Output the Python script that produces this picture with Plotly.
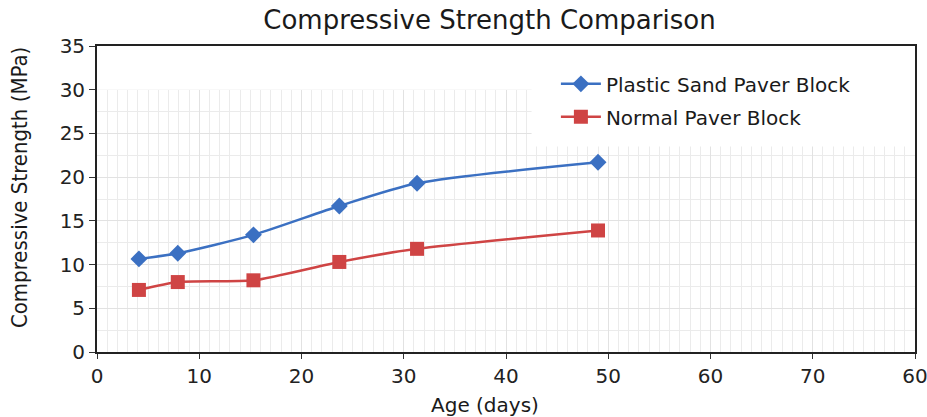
import plotly.graph_objects as go

age_days = [4.1, 7.9, 15.3, 23.7, 31.3, 49.0]
plastic_sand = [10.65, 11.3, 13.4, 16.7, 19.3, 21.7]
normal_block = [7.1, 8.0, 8.2, 10.3, 11.8, 13.9]

x_tickvals = [0, 10, 20, 30, 40, 50, 60, 70, 80]
x_ticktext = ["0", "10", "20", "30", "40", "50", "60", "70", "60"]
y_tickvals = [0, 5, 10, 15, 20, 25, 30, 35]

FONT = "DejaVu Sans, Noto Sans, sans-serif"
NARROW = "Liberation Sans Narrow, DejaVu Sans Condensed, Noto Sans, sans-serif"
BLUE = "#3b70c2"
RED = "#cf4444"

fig = go.Figure()
fig.add_trace(go.Scatter(
    x=age_days, y=plastic_sand, name="Plastic Sand Paver Block", legendgroup="a",
    mode="lines+markers", line=dict(color=BLUE, width=2.5, shape="spline", smoothing=0.7),
    marker=dict(symbol="diamond", size=13, color=BLUE)))
fig.add_trace(go.Scatter(
    x=age_days, y=normal_block, name="Normal Paver Block", legendgroup="b",
    mode="lines+markers", line=dict(color=RED, width=2.5, shape="spline", smoothing=0.55),
    marker=dict(symbol="square", size=14, color=RED)))

# blank bands (no grid) at top and behind the legend
fig.add_shape(type="rect", xref="x", yref="y", x0=0, x1=80, y0=30, y1=35,
              fillcolor="white", line=dict(width=0), layer="between")
fig.add_shape(type="rect", xref="x", yref="y", x0=42.5, x1=80, y0=23.5, y1=35,
              fillcolor="white", line=dict(width=0), layer="between")

fig.update_layout(
    width=927, height=417,
    margin=dict(l=97, r=12, t=46, b=65, autoexpand=False),
    paper_bgcolor="white", plot_bgcolor="white",
    font=dict(family=FONT, color="#222222"),
    title=dict(text="Compressive Strength Comparison", x=0.528, xanchor="center",
               y=0.952, yanchor="middle", font=dict(size=26, color="#1a1a1a")),
    showlegend=True,
    legend=dict(x=0.561, y=0.94, xanchor="left", yanchor="top",
                bgcolor="rgba(255,255,255,0)", font=dict(size=20, color="#1a1a1a"),
                itemwidth=40, tracegroupgap=4),
    annotations=[
        dict(text="Age (days)", xref="paper", yref="paper", x=0.474, y=-0.173,
             xanchor="center", yanchor="middle", showarrow=False,
             font=dict(size=20, color="#1a1a1a")),
        dict(text="Compressive Strength (MPa)", xref="paper", yref="paper",
             x=-0.094, y=0.536, xanchor="center", yanchor="middle", textangle=-90,
             showarrow=False, font=dict(size=22, color="#1a1a1a", family=NARROW)),
    ],
)

fig.update_xaxes(
    range=[0, 80], tickvals=x_tickvals, ticktext=x_ticktext, automargin=False,
    ticklabeloverflow="allow",
    showline=True, linecolor="#222222", linewidth=1.8, mirror=True,
    ticks="outside", ticklen=5, tickcolor="#333333",
    showgrid=True, gridcolor="#e2e2e2", gridwidth=1,
    minor=dict(dtick=1, showgrid=True, gridcolor="#ebebeb", gridwidth=1),
    zeroline=False,
    tickfont=dict(size=20, color="#222222"),
)
fig.update_yaxes(
    range=[0, 35], tickvals=y_tickvals, automargin=False,
    ticklabeloverflow="allow",
    showline=True, linecolor="#222222", linewidth=1.8, mirror=True,
    ticks="outside", ticklen=6, tickcolor="#333333",
    showgrid=True, gridcolor="#e2e2e2", gridwidth=1,
    minor=dict(dtick=2.5, showgrid=True, gridcolor="#ebebeb", gridwidth=1),
    zeroline=False,
    tickfont=dict(size=20, color="#222222"),
)

fig.write_html("out.html", config={"displayModeBar": False},
               post_script="document.body.style.margin='0px';")
